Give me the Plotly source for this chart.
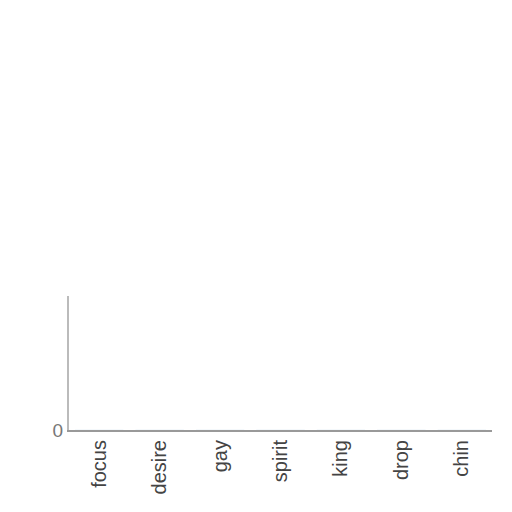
import plotly.graph_objects as go

categories = ["focus", "desire", "gay", "spirit", "king", "drop", "chin"]
values = [0, 0, 0, 0, 0, 0, 0]

fig = go.Figure(go.Bar(x=categories, y=values, marker_color="#4a7ab5"))

fig.update_layout(
    width=512, height=512,
    margin=dict(l=61, r=28, t=288, b=90),
    paper_bgcolor="white", plot_bgcolor="white",
    showlegend=False,
    font=dict(family="Liberation Sans, Arial, sans-serif", size=20, color="#444"),
)
fig.update_xaxes(
    type="category", showline=True, linecolor="#999", linewidth=2,
    tickangle=-90, showgrid=False, ticks="", zeroline=False, automargin=False,
    tickfont=dict(size=20, color="#444"), ticklabelstandoff=0,
)
fig.update_yaxes(
    range=[0, 1], tickvals=[0], ticktext=["0"], showline=True, linecolor="#bbb",
    linewidth=2, showgrid=False, zeroline=False, ticks="", automargin=False,
    tickfont=dict(size=19, color="#777"),
)

fig.write_html("out.html")
